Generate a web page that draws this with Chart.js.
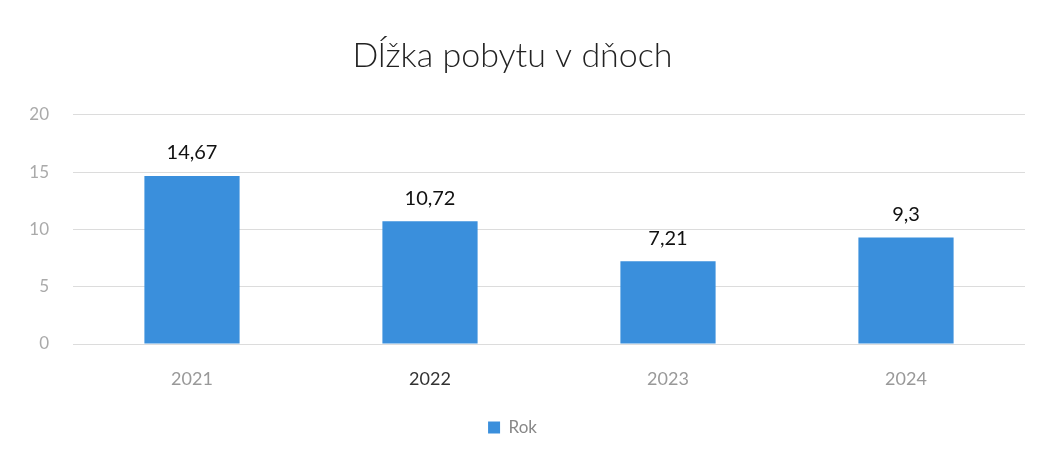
<!DOCTYPE html>
<html>
<head>
<meta charset="utf-8">
<script src="https://cdn.jsdelivr.net/npm/chart.js@4/dist/chart.umd.min.js"></script>
<style>
  html, body { margin: 0; padding: 0; background: #fff; }
  #wrap { width: 1041px; height: 465px; }
</style>
</head>
<body>
<div id="wrap"><canvas id="chart"></canvas></div>
<script>
const categories = ['2021', '2022', '2023', '2024'];
const stayDays = [14.67, 10.72, 7.21, 9.3];
const seriesName = 'Rok';
const yTicks = [0, 5, 10, 15, 20];

const fontFamily = 'Lato, "Open Sans", sans-serif';

// draws the value above each bar, with a decimal comma
const valueLabels = {
  id: 'valueLabels',
  afterDatasetsDraw(chart) {
    const {ctx} = chart;
    const meta = chart.getDatasetMeta(0);
    ctx.save();
    ctx.font = '20px ' + fontFamily;
    ctx.fillStyle = '#111';
    ctx.textAlign = 'center';
    ctx.textBaseline = 'bottom';
    meta.data.forEach((bar, i) => {
      const text = String(stayDays[i]).replace('.', ',');
      ctx.fillText(text, bar.x, bar.y - 13);
    });
    ctx.restore();
  }
};

new Chart(document.getElementById('chart'), {
  type: 'bar',
  data: {
    labels: categories,
    datasets: [{
      label: seriesName,
      data: stayDays,
      backgroundColor: '#3a8fdc',
      borderWidth: 0,
      categoryPercentage: 1,
      barPercentage: 0.4
    }]
  },
  options: {
    responsive: true,
    maintainAspectRatio: false,
    animation: false,
    layout: {padding: {left: 0, right: 16, top: 0, bottom: 19}},
    plugins: {
      title: {
        display: true,
        text: 'Dĺžka pobytu v dňoch',
        color: '#222',
        font: {family: fontFamily, size: 34, weight: 300},
        padding: {top: 36, bottom: 38}
      },
      legend: {
        position: 'bottom',
        labels: {
          color: '#888',
          boxWidth: 12,
          boxHeight: 12,
          font: {family: fontFamily, size: 17}
        }
      },
      tooltip: {enabled: false}
    },
    scales: {
      x: {
        grid: {display: false},
        border: {display: false},
        ticks: {
          color: ['#999', '#333', '#999', '#999'],
          font: {family: fontFamily, size: 18},
          padding: 16
        },
        afterFit: s => { s.height = 65; }
      },
      y: {
        min: 0,
        max: 20,
        afterBuildTicks: s => { s.ticks = yTicks.map(v => ({value: v})); },
        grid: {color: '#dcdcdc', drawTicks: false},
        border: {display: false},
        ticks: {
          color: '#aaa',
          font: {family: fontFamily, size: 17},
          padding: 24
        },
        afterFit: s => { s.width = 73; }
      }
    }
  },
  plugins: [valueLabels]
});
</script>
</body>
</html>
